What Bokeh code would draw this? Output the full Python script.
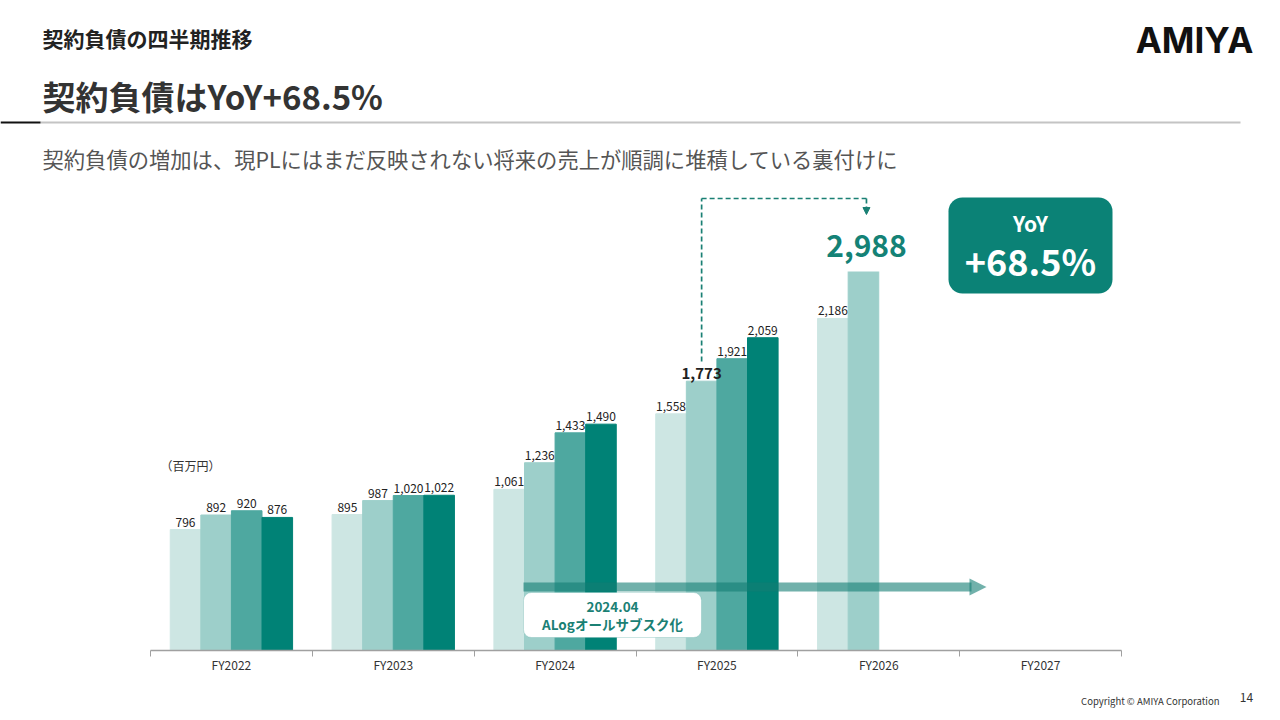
from bokeh.plotting import figure
from bokeh.models import (ColumnDataSource, Range1d, LinearAxis, FixedTicker, LabelSet, Label,
                          BoxAnnotation, Arrow, NormalHead)
from bokeh.core.properties import value
from bokeh.embed import file_html
from bokeh.resources import INLINE

# ---------------- data ----------------
years = ["FY2022", "FY2023", "FY2024", "FY2025", "FY2026", "FY2027"]
q1 = [796, 895, 1061, 1558, 2186, None]
q2 = [892, 987, 1236, 1773, 2988, None]
q3 = [920, 1020, 1433, 1921, None, None]
q4 = [876, 1022, 1490, 2059, None, None]
quarters = [q1, q2, q3, q4]
quarter_colors = ["#cde6e3", "#9dcfca", "#4ea8a0", "#008276"]
prev_point = (3, 1)   # FY2025 Q2  -> 1,773
now_point = (4, 1)    # FY2026 Q2  -> 2,988
yoy_label = "YoY"
yoy_value = "+68.5%"
unit_text = "（百万円）"
event_date = "2024.04"
event_text = "ALogオールサブスク化"
header_small = "契約負債の四半期推移"
header_big = "契約負債はYoY+68.5%"
subtitle = "契約負債の増加は、現PLにはまだ反映されない将来の売上が順調に堆積している裏付けに"
logo = "AMIYA"
copyright_text = "Copyright © AMIYA Corporation"
page_no = "14"

FONT = "Noto Sans CJK JP"
TEAL = "#0b8276"
TEAL_TXT = "#1a8074"

# ---------------- layout (page pixels) ----------------
W, H = 1280, 720
FX0, FX1 = 150, 1121        # chart x extent (category 0 .. 6)
FY_TOP, FY_BASE = 271, 650  # visible chart top / baseline
YCAP = 2495                 # value shown at the visible chart top (tallest bar is cut there)
bar_w = 0.189
offsets = [(-1.5 + k) * bar_w for k in range(4)]

sx = (FX1 - FX0) / len(years)
sy = (FY_BASE - FY_TOP) / YCAP


def X(px):
    return (px - FX0) / sx


def Y(py):
    return (FY_BASE - py) / sy


p = figure(width=W, height=H, output_backend="svg", toolbar_location=None, title=None,
           x_range=Range1d(X(0), X(W)), y_range=Range1d(Y(H), Y(0)),
           x_axis_location=None, y_axis_location=None, min_border=0)
p.outline_line_color = None
p.xgrid.visible = False
p.ygrid.visible = False
p.background_fill_color = "white"
p.border_fill_color = "white"

# bars
bx, btop, bcol = [], [], []
for qi, series in enumerate(quarters):
    for i, v in enumerate(series):
        if v is None:
            continue
        bx.append(i + 0.5 + offsets[qi])
        btop.append(v)
        bcol.append(quarter_colors[qi])
p.vbar(x="x", top="top", width=bar_w, color="color",
       source=ColumnDataSource(dict(x=bx, top=btop, color=bcol)))

prev_x = prev_point[0] + 0.5 + offsets[prev_point[1]]
prev_v = quarters[prev_point[1]][prev_point[0]]
now_x = now_point[0] + 0.5 + offsets[now_point[1]]
now_v = quarters[now_point[1]][now_point[0]]

# the tallest bar is cut at the chart top, as in the slide
p.add_layout(BoxAnnotation(left=now_x - bar_w / 2 - 0.01, right=now_x + bar_w / 2 + 0.01,
                           bottom=YCAP, top=now_v + 50, fill_color="white", fill_alpha=1,
                           line_color=None))

# x axis
axis = LinearAxis(ticker=FixedTicker(ticks=[i + 0.5 for i in range(len(years))],
                                     minor_ticks=list(range(len(years) + 1))),
                  major_label_overrides={i + 0.5: y for i, y in enumerate(years)},
                  fixed_location=0, bounds=(0, len(years)))
axis.axis_line_color = "#a0a0a0"
axis.axis_line_width = 1.3
axis.major_tick_line_color = None
axis.major_tick_out = 0
axis.major_tick_in = 0
axis.minor_tick_line_color = "#a0a0a0"
axis.minor_tick_in = 0
axis.minor_tick_out = 6
axis.major_label_standoff = -1
axis.major_label_text_font = FONT
axis.major_label_text_font_size = "12px"
axis.major_label_text_color = "#333333"
p.add_layout(axis, "below")

# value labels
lx, ly, lt = [], [], []
for qi, series in enumerate(quarters):
    for i, v in enumerate(series):
        if v is None or (i, qi) in (prev_point, now_point):
            continue
        lx.append(i + 0.5 + offsets[qi])
        ly.append(v)
        lt.append(f"{v:,}")
p.add_layout(LabelSet(x="x", y="y", text="t", source=ColumnDataSource(dict(x=lx, y=ly, t=lt)),
                      y_offset=3, text_align="center", text_baseline="bottom",
                      text_font=value(FONT), text_font_size="12px", text_color="#222222"))

p.add_layout(Label(x=prev_x, y=prev_v, y_offset=2, text=f"{prev_v:,}", text_align="center",
                   text_baseline="bottom", text_font=FONT, text_font_size="15px",
                   text_font_style="bold", text_color="#222222"))
big_x = now_x + 3 / sx
p.add_layout(Label(x=big_x, y=Y(245), text=f"{now_v:,}", text_align="center",
                   text_baseline="middle", text_font=FONT, text_font_size="30px",
                   text_font_style="bold", text_color="#148276"))

# dashed connector
dash_kw = dict(line_color=TEAL_TXT, line_width=1.7, line_dash="5 3")
p.add_layout(Arrow(end=None, x_start=prev_x, y_start=prev_v + 130, x_end=prev_x, y_end=Y(198), **dash_kw))
p.add_layout(Arrow(end=None, x_start=prev_x, y_start=Y(198), x_end=big_x, y_end=Y(198), **dash_kw))
p.add_layout(Arrow(end=NormalHead(size=7, fill_color=TEAL_TXT, line_color=TEAL_TXT),
                   x_start=big_x, y_start=Y(198), x_end=big_x, y_end=Y(214), **dash_kw))

# unit
p.add_layout(Label(x=X(160), y=Y(465), text=unit_text, text_align="left", text_baseline="middle",
                   text_font=FONT, text_font_size="12px", text_color="#333333"))

# event band arrow
band_color = "#137d73"
p.add_layout(Arrow(end=None, x_start=X(523), y_start=Y(586.5), x_end=X(971), y_end=Y(586.5),
                   line_color=band_color, line_alpha=0.6, line_width=9))
p.add_layout(Arrow(end=NormalHead(size=17, fill_color=band_color, fill_alpha=0.6, line_color=None),
                   x_start=X(960), y_start=Y(586.5), x_end=X(986), y_end=Y(586.5),
                   line_alpha=0, line_width=1))

p.add_layout(BoxAnnotation(left=X(523), right=X(701), top=Y(592), bottom=Y(637),
                           fill_color="white", fill_alpha=1, line_color="#5aa9a1", line_width=1,
                           border_radius=8))
p.add_layout(Label(x=X(612), y=Y(606), text=event_date, text_align="center", text_baseline="middle",
                   text_font=FONT, text_font_size="13.5px", text_font_style="bold", text_color=TEAL_TXT))
p.add_layout(Label(x=X(612), y=Y(623), text=event_text, text_align="center", text_baseline="middle",
                   text_font=FONT, text_font_size="13.5px", text_font_style="bold", text_color=TEAL_TXT))

# YoY box
p.add_layout(BoxAnnotation(left=X(948), right=X(1112), top=Y(197), bottom=Y(293),
                           fill_color=TEAL, fill_alpha=1, line_color=None, border_radius=14))
p.add_layout(Label(x=X(1030), y=Y(222), text=yoy_label, text_align="center", text_baseline="middle",
                   text_font=FONT, text_font_size="21px", text_font_style="bold", text_color="white"))
p.add_layout(Label(x=X(1030), y=Y(259), text=yoy_value, text_align="center", text_baseline="middle",
                   text_font=FONT, text_font_size="36px", text_font_style="bold", text_color="white"))

# header
p.add_layout(Label(x=X(42), y=Y(37), text=header_small, text_align="left", text_baseline="middle",
                   text_font=FONT, text_font_size="21px", text_font_style="bold", text_color="#222222"))
p.add_layout(Label(x=X(42), y=Y(95), text=header_big, text_align="left", text_baseline="middle",
                   text_font=FONT, text_font_size="33px", text_font_style="bold", text_color="#333333"))
p.add_layout(Arrow(end=None, x_start=X(40), y_start=Y(122), x_end=X(1240), y_end=Y(122),
                   line_color="#c4c4c4", line_width=2))
p.add_layout(Arrow(end=None, x_start=X(0), y_start=Y(122), x_end=X(40), y_end=Y(122),
                   line_color="#111111", line_width=2))
p.add_layout(Label(x=X(42), y=Y(158), text=subtitle, text_align="left", text_baseline="middle",
                   text_font=FONT, text_font_size="21.3px", text_color="#555555"))
p.add_layout(Label(x=X(1194), y=Y(39), text=logo, text_align="center", text_baseline="middle",
                   text_font="Inter", text_font_size="35px", text_font_style="bold", text_color="#111111"))

# footer
p.add_layout(Label(x=X(1219), y=Y(700), text=copyright_text, text_align="right", text_baseline="middle",
                   text_font=FONT, text_font_size="9.5px", text_color="#333333"))
p.add_layout(Label(x=X(1246), y=Y(697), text=page_no, text_align="center", text_baseline="middle",
                   text_font=FONT, text_font_size="12px", text_color="#333333"))

open("out.html", "w").write(file_html(p, INLINE))
